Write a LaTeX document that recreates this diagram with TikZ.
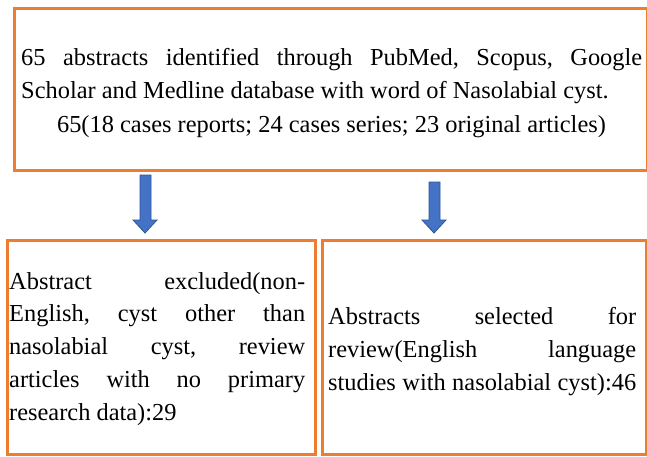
\documentclass[tikz,border=0pt]{standalone}
\usepackage{fontspec}
\setmainfont{Liberation Serif}
\definecolor{boxorange}{HTML}{ED7D31}
\definecolor{arrowblue}{HTML}{4472C4}
\definecolor{arrowedge}{HTML}{2F5597}
\newcommand\jl[1]{\hbox to\hsize{#1}}
\begin{document}
\begin{tikzpicture}[x=1pt,y=-1pt,
  box/.style={draw=boxorange, line width=2.6pt, inner sep=0pt, anchor=north west},
  txt/.style={inner sep=0pt, anchor=base west, font=\fontsize{24.4}{33}\selectfont},
  blockarrow/.style={fill=arrowblue, draw=arrowedge, line width=0.8pt, line join=miter}]
\useasboundingbox (0,0) rectangle (647,456);
\fill[white] (0,0) rectangle (647,456);
% boxes
\node[box, minimum width=633pt, minimum height=162pt] (top) at (13,7) {};
\node[box, minimum width=308pt, minimum height=214pt] (left) at (6,239) {};
\node[box, minimum width=324pt, minimum height=214pt] (right) at (321,239) {};
% top text
\node[txt] (t1) at (21,65) {\hbox to 621pt{65\hfill abstracts\hfill identified\hfill through\hfill PubMed,\hfill Scopus,\hfill Google}};
\node[txt] (t2) at (21,98) {Scholar and Medline database with word of Nasolabial cyst.};
\node[txt, anchor=base] (t3) at (331.5,132) {65(18 cases reports; 24 cases series; 23 original articles)};
% left text
\node[txt] (lt) at (9,289) {\parbox[t]{296pt}{\baselineskip=32.75pt
  \jl{Abstract\hfill excluded(non-}
  \jl{English,\hfill cyst\hfill other\hfill than}
  \jl{nasolabial\hfill cyst,\hfill review}
  \jl{articles\hfill with\hfill no\hfill primary}
  \jl{research data):29\hfil}}};
% right text
\node[txt] (rt) at (328,324) {\parbox[t]{308pt}{\baselineskip=33pt
  \jl{Abstracts\hfill selected\hfill for}
  \jl{review(English\hfill language}
  \jl{studies\hfill with\hfill nasolabial\hfill cyst):46}}};
% block arrows from top box to the two lower boxes
\coordinate (a1) at (145.5,175);
\coordinate (a2) at (434.5,182);
\fill[blockarrow] (a1) ++(-5.5,0) -- ++(11,0) |- (157,220) -- (145,233) -- (133,220) -| cycle;
\fill[blockarrow] (a2) ++(-5.5,0) -- ++(11,0) |- (446,220) -- (434,233) -- (422,220) -| cycle;
\end{tikzpicture}
\end{document}
